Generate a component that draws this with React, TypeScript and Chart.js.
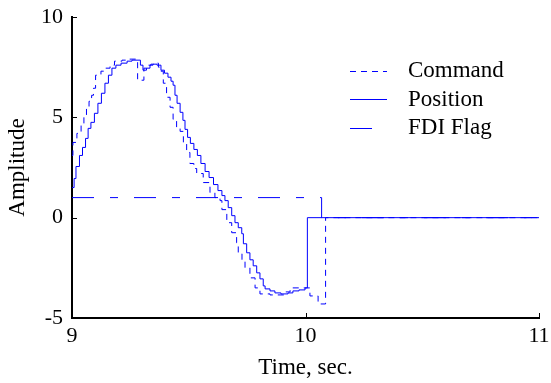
import { useEffect, useRef } from 'react';
import { Chart, registerables } from 'chart.js';

Chart.register(...registerables);

// ---- Data ----
const seriesNames = ['Command', 'Position', 'FDI Flag'];

const cmdTimes = [
  9.000, 9.004, 9.021, 9.039, 9.051, 9.062, 9.073, 9.084, 9.092, 9.101,
  9.124, 9.141, 9.163, 9.182, 9.214, 9.240, 9.281, 9.308, 9.323, 9.338,
  9.355, 9.370, 9.381, 9.391, 9.405, 9.420, 9.433, 9.448, 9.463, 9.477,
  9.491, 9.505, 9.522, 9.534, 9.562, 9.591, 9.612, 9.634, 9.642, 9.663,
  9.684, 9.705, 9.712, 9.728, 9.741, 9.762, 9.784, 9.805, 9.848, 9.912,
  9.934, 10.019, 10.054, 10.086, 11.0,
];
const cmdValues = [
  3.1, 3.75, 4.2, 4.6, 5.0, 5.45, 5.8, 6.1, 6.45, 7.1,
  7.3, 7.45, 7.6, 7.8, 7.85, 7.9, 6.85, 7.45, 7.6, 7.65,
  7.7, 7.5, 7.3, 6.7, 6.0, 5.5, 4.9, 4.5, 4.3, 3.75,
  3.25, 2.7, 2.45, 2.2, 1.75, 1.25, 1.0, 0.85, 0.4, -0.25,
  -0.75, -1.25, -1.8, -2.15, -2.5, -3.0, -3.5, -3.8, -3.85, -3.7,
  -3.5, -3.9, -4.3, 0, 0,
];

const posTimes = [
  9.000, 9.009, 9.017, 9.032, 9.045, 9.058, 9.069, 9.081, 9.096, 9.111,
  9.126, 9.141, 9.156, 9.171, 9.188, 9.210, 9.236, 9.257, 9.293, 9.304,
  9.319, 9.334, 9.347, 9.364, 9.381, 9.396, 9.411, 9.424, 9.433, 9.441,
  9.450, 9.463, 9.475, 9.484, 9.495, 9.507, 9.522, 9.537, 9.552, 9.570,
  9.587, 9.606, 9.625, 9.642, 9.655, 9.669, 9.684, 9.698, 9.712, 9.727,
  9.734, 9.748, 9.762, 9.776, 9.791, 9.805, 9.819, 9.827, 9.848, 9.869,
  9.895, 9.925, 9.946, 9.972, 9.998, 10.008, 11.0,
];
const posValues = [
  1.5, 1.95, 2.55, 3.1, 3.5, 3.95, 4.45, 4.75, 5.2, 5.7,
  6.2, 6.7, 7.1, 7.45, 7.6, 7.7, 7.8, 7.85, 7.6, 7.35,
  7.45, 7.6, 7.65, 7.6, 7.35, 7.2, 7.0, 6.8, 6.6, 6.1,
  5.7, 5.25, 4.85, 4.4, 4.0, 3.7, 3.4, 3.1, 2.7, 2.3,
  2.0, 1.65, 1.35, 1.1, 0.85, 0.5, 0.1, -0.25, -0.5, -0.8,
  -1.3, -1.75, -2.1, -2.4, -2.75, -3.05, -3.4, -3.55, -3.65, -3.75,
  -3.8, -3.75, -3.65, -3.6, -3.5, 0, 0,
];

const flagTimes = [9.0, 10.069, 11.0];
const flagValues = [1, 0, 0];

const xTicks = [9, 10, 11];
const yTicks = [-5, 0, 5, 10];
const xTitle = 'Time, sec.';
const yTitle = 'Amplitude';

const FONT = "'Liberation Serif', 'Times New Roman', serif";
const BLUE = 'rgb(0,0,255)';
const dashes = [[6, 5], [], [22, 16, 8, 16]];

function toPoints(ts: number[], vs: number[]) {
  return ts.map((t, i) => ({ x: t, y: vs[i] }));
}

function zeroPad(s: any) {
  s.paddingTop = 0;
  s.paddingBottom = 0;
  s.paddingLeft = 0;
  s.paddingRight = 0;
}

export default function App() {
  const ref = useRef<HTMLCanvasElement>(null);

  useEffect(() => {
    if (!ref.current) return;

    const decor = {
      id: 'decor',
      afterDraw(chart: any) {
        const { ctx, chartArea, scales } = chart;
        ctx.save();
        ctx.strokeStyle = '#000';
        ctx.lineWidth = 1;
        for (const v of yTicks) {
          const y = Math.round(scales.y.getPixelForValue(v)) + 0.5;
          ctx.beginPath();
          ctx.moveTo(chartArea.left, y);
          ctx.lineTo(chartArea.left + 5, y);
          ctx.stroke();
        }
        for (const v of xTicks) {
          const x = Math.round(scales.x.getPixelForValue(v)) + 0.5;
          ctx.beginPath();
          ctx.moveTo(x, chartArea.bottom);
          ctx.lineTo(x, chartArea.bottom - 5);
          ctx.stroke();
        }
        const lx0 = chartArea.right - 189;
        const lens = [37, 37, 22];
        const tx = chartArea.right - 131;
        ctx.font = `23px ${FONT}`;
        ctx.textBaseline = 'alphabetic';
        ctx.textAlign = 'left';
        seriesNames.forEach((name, i) => {
          const base = chartArea.top + 60 + i * 28.7;
          const ly = Math.round(base - 6.5) + 0.5;
          ctx.strokeStyle = BLUE;
          ctx.setLineDash(dashes[i]);
          ctx.beginPath();
          ctx.moveTo(lx0, ly);
          ctx.lineTo(lx0 + lens[i], ly);
          ctx.stroke();
          ctx.setLineDash([]);
          ctx.fillStyle = '#000';
          ctx.fillText(name, tx, base);
        });
        ctx.restore();
      },
    };

    const chart = new Chart(ref.current, {
      type: 'line',
      data: {
        datasets: [
          {
            label: seriesNames[0],
            data: toPoints(cmdTimes, cmdValues),
            borderColor: BLUE,
            borderWidth: 1,
            borderDash: dashes[0],
            stepped: true,
            pointRadius: 0,
            fill: false,
          },
          {
            label: seriesNames[1],
            data: toPoints(posTimes, posValues),
            borderColor: BLUE,
            borderWidth: 1,
            stepped: true,
            pointRadius: 0,
            fill: false,
          },
          {
            label: seriesNames[2],
            data: toPoints(flagTimes, flagValues),
            borderColor: BLUE,
            borderWidth: 1,
            borderDash: dashes[2],
            stepped: true,
            pointRadius: 0,
            fill: false,
          },
        ],
      },
      options: {
        responsive: false,
        animation: false,
        events: [],
        layout: { padding: { left: 0, right: 12, top: 17, bottom: 0 } },
        plugins: {
          legend: { display: false },
          tooltip: { enabled: false },
          title: { display: false },
        },
        scales: {
          x: {
            type: 'linear',
            min: 9,
            max: 11,
            afterBuildTicks: (s: any) => {
              s.ticks = xTicks.map((v) => ({ value: v }));
            },
            afterFit: (s: any) => {
              s.height = 65;
              zeroPad(s);
            },
            grid: { display: false, drawTicks: false },
            border: { display: true, color: '#000', width: 2 },
            ticks: {
              color: '#000',
              font: { family: FONT, size: 22 },
              padding: 5,
              maxRotation: 0,
            },
            title: {
              display: true,
              text: xTitle,
              color: '#000',
              font: { family: FONT, size: 23 },
              padding: { top: 0, bottom: 1 },
            },
          },
          y: {
            type: 'linear',
            min: -5,
            max: 10,
            afterBuildTicks: (s: any) => {
              s.ticks = yTicks.map((v) => ({ value: v }));
            },
            afterFit: (s: any) => {
              s.width = 72;
              zeroPad(s);
            },
            grid: { display: false, drawTicks: false },
            border: { display: true, color: '#000', width: 2 },
            ticks: {
              color: '#000',
              font: { family: FONT, size: 22 },
              padding: 9,
            },
            title: {
              display: true,
              text: yTitle,
              color: '#000',
              font: { family: FONT, size: 23 },
              padding: { top: 4, bottom: 0 },
            },
          },
        },
      },
      plugins: [decor],
    });

    return () => chart.destroy();
  }, []);

  return (
    <div style={{ position: 'fixed', left: 0, top: 0, width: 551, height: 383, background: '#fff' }}>
      <canvas ref={ref} width={551} height={383} style={{ display: 'block' }} />
    </div>
  );
}
